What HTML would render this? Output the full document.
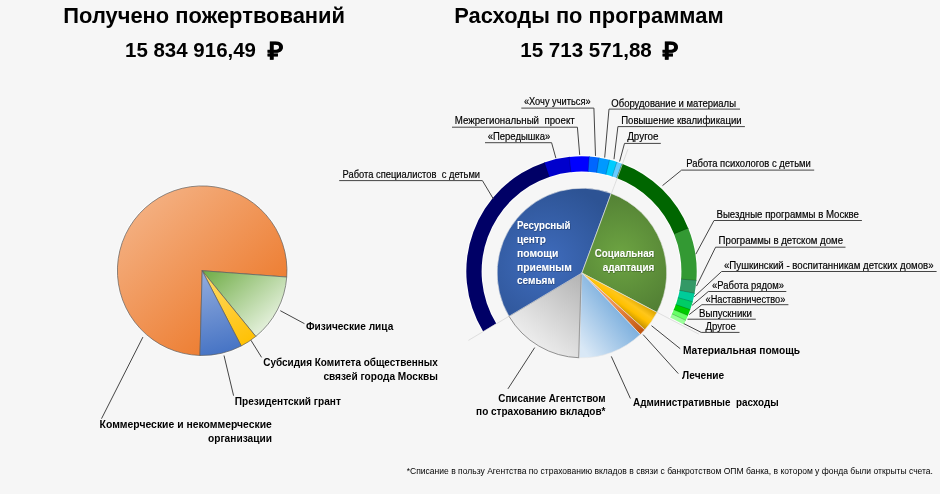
<!DOCTYPE html>
<html lang="ru"><head><meta charset="utf-8"><title>Отчёт</title>
<style>
html,body{margin:0;padding:0;background:#f6f6f6;}
body{width:940px;height:494px;overflow:hidden;}
svg{display:block;font-family:"Liberation Sans",sans-serif;}
text{white-space:pre;}
</style></head><body>
<svg width="940" height="494" viewBox="0 0 940 494">
<defs>
<linearGradient id="lo" gradientUnits="userSpaceOnUse" x1="142" y1="198" x2="250" y2="318"><stop offset="0" stop-color="#f4b183"/><stop offset="1" stop-color="#ed7d31"/></linearGradient>
<linearGradient id="lg" gradientUnits="userSpaceOnUse" x1="215" y1="262" x2="275" y2="330"><stop offset="0" stop-color="#70ad47"/><stop offset="1" stop-color="#eef6e8"/></linearGradient>
<linearGradient id="ly" gradientUnits="userSpaceOnUse" x1="205" y1="275" x2="250" y2="345"><stop offset="0" stop-color="#ffd966"/><stop offset="1" stop-color="#ffc000"/></linearGradient>
<linearGradient id="lb" gradientUnits="userSpaceOnUse" x1="205" y1="275" x2="225" y2="355"><stop offset="0" stop-color="#8faadc"/><stop offset="1" stop-color="#4472c4"/></linearGradient>

<radialGradient id="rb" gradientUnits="userSpaceOnUse" cx="545" cy="262" r="80"><stop offset="0" stop-color="#3f6cbd"/><stop offset="1" stop-color="#2d5394"/></radialGradient>
<radialGradient id="rg" gradientUnits="userSpaceOnUse" cx="620" cy="255" r="70"><stop offset="0" stop-color="#6da442"/><stop offset="1" stop-color="#507d33"/></radialGradient>
<linearGradient id="ry" gradientUnits="userSpaceOnUse" x1="637.4" y1="298.3" x2="624.8" y2="316.3"><stop offset="0" stop-color="#d6a100"/><stop offset="0.38" stop-color="#ffc61a"/><stop offset="0.62" stop-color="#ffc000"/><stop offset="1" stop-color="#bd8a00"/></linearGradient>
<linearGradient id="ro" gradientUnits="userSpaceOnUse" x1="585" y1="276" x2="641" y2="331"><stop offset="0" stop-color="#f6b98f"/><stop offset="0.55" stop-color="#ee8d49"/><stop offset="1" stop-color="#c25810"/></linearGradient>
<linearGradient id="rl" gradientUnits="userSpaceOnUse" x1="580" y1="345" x2="640" y2="300"><stop offset="0" stop-color="#d9e8f6"/><stop offset="1" stop-color="#5b9bd5"/></linearGradient>
<linearGradient id="rgr" gradientUnits="userSpaceOnUse" x1="520" y1="350" x2="585" y2="275"><stop offset="0" stop-color="#f4f4f4"/><stop offset="0.3" stop-color="#e2e2e2"/><stop offset="1" stop-color="#b2b2b2"/></linearGradient>
<filter id="sh" x="-10%" y="-30%" width="120%" height="160%"><feDropShadow dx="0.4" dy="0.6" stdDeviation="0.5" flood-color="#000" flood-opacity="0.45"/></filter></defs>
<rect width="940" height="494" fill="#f6f6f6"/>
<circle cx="202.2" cy="270.7" r="86.1" fill="#fcfcfc"/>
<path d="M202.20,270.70 L199.98,355.47 A84.8,84.8 0 1 1 286.76,277.06 Z" fill="url(#lo)" stroke="#5e5e5e" stroke-width="0.7" stroke-linejoin="round"/>
<path d="M202.20,270.70 L286.76,277.06 A84.8,84.8 0 0 1 255.80,336.42 Z" fill="url(#lg)" stroke="#5e5e5e" stroke-width="0.7" stroke-linejoin="round"/>
<path d="M202.20,270.70 L255.80,336.42 A84.8,84.8 0 0 1 241.22,345.99 Z" fill="url(#ly)" stroke="#5e5e5e" stroke-width="0.7" stroke-linejoin="round"/>
<path d="M202.20,270.70 L241.22,345.99 A84.8,84.8 0 0 1 199.98,355.47 Z" fill="url(#lb)" stroke="#5e5e5e" stroke-width="0.7" stroke-linejoin="round"/>
<path d="M482.85,332.90 A116.2,116.2 0 1 1 684.19,325.87 L668.90,317.78 A98.9,98.9 0 1 0 497.54,323.76 Z" fill="#fdfdfd"/>
<path d="M483.17,331.52 A115.2,115.2 0 0 1 545.14,162.19 L549.97,176.71 A99.9,99.9 0 0 0 496.23,323.55 Z" fill="#000066"/>
<path d="M544.37,162.45 A115.2,115.2 0 0 1 570.06,156.87 L571.58,172.09 A99.9,99.9 0 0 0 549.31,176.93 Z" fill="#0000cc"/>
<path d="M569.26,156.95 A115.2,115.2 0 0 1 589.94,156.61 L588.82,171.87 A99.9,99.9 0 0 0 570.88,172.17 Z" fill="#0000ff"/>
<path d="M589.13,156.55 A115.2,115.2 0 0 1 599.72,157.75 L597.30,172.86 A99.9,99.9 0 0 0 588.12,171.82 Z" fill="#0066ff"/>
<path d="M598.93,157.63 A115.2,115.2 0 0 1 610.34,159.97 L606.51,174.78 A99.9,99.9 0 0 0 596.61,172.75 Z" fill="#0099ff"/>
<path d="M609.56,159.77 A115.2,115.2 0 0 1 617.67,162.13 L612.87,176.65 A99.9,99.9 0 0 0 605.84,174.61 Z" fill="#00ccff"/>
<path d="M616.91,161.88 A115.2,115.2 0 0 1 622.78,163.95 L617.30,178.24 A99.9,99.9 0 0 0 612.20,176.44 Z" fill="#66ccff"/>
<path d="M622.03,163.67 A115.2,115.2 0 0 1 688.54,228.91 L674.32,234.56 A99.9,99.9 0 0 0 616.65,177.99 Z" fill="#006600"/>
<path d="M688.24,228.16 A115.2,115.2 0 0 1 696.30,281.14 L681.05,279.86 A99.9,99.9 0 0 0 674.06,233.92 Z" fill="#339933"/>
<path d="M696.36,280.34 A115.2,115.2 0 0 1 694.47,294.07 L679.46,291.08 A99.9,99.9 0 0 0 681.11,279.16 Z" fill="#339966"/>
<path d="M694.62,293.28 A115.2,115.2 0 0 1 692.46,302.48 L677.72,298.37 A99.9,99.9 0 0 0 679.60,290.39 Z" fill="#00cc99"/>
<path d="M692.67,301.70 A115.2,115.2 0 0 1 689.96,310.33 L675.55,305.18 A99.9,99.9 0 0 0 677.91,297.69 Z" fill="#00cc66"/>
<path d="M690.23,309.58 A115.2,115.2 0 0 1 687.62,316.33 L673.53,310.37 A99.9,99.9 0 0 0 675.79,304.52 Z" fill="#00cc00"/>
<path d="M687.93,315.59 A115.2,115.2 0 0 1 685.48,321.09 L671.67,314.51 A99.9,99.9 0 0 0 673.80,309.73 Z" fill="#66ff66"/>
<path d="M685.82,320.37 A115.2,115.2 0 0 1 683.78,324.52 L670.19,317.47 A99.9,99.9 0 0 0 671.97,313.88 Z" fill="#99ff99"/>
<line x1="549.31" y1="176.93" x2="544.37" y2="162.45" stroke="#000" stroke-opacity="0.4" stroke-width="0.5"/>
<line x1="570.88" y1="172.17" x2="569.26" y2="156.95" stroke="#000" stroke-opacity="0.4" stroke-width="0.5"/>
<line x1="588.12" y1="171.82" x2="589.13" y2="156.55" stroke="#000" stroke-opacity="0.4" stroke-width="0.5"/>
<line x1="596.61" y1="172.75" x2="598.93" y2="157.63" stroke="#000" stroke-opacity="0.4" stroke-width="0.5"/>
<line x1="605.84" y1="174.61" x2="609.56" y2="159.77" stroke="#000" stroke-opacity="0.4" stroke-width="0.5"/>
<line x1="612.20" y1="176.44" x2="616.91" y2="161.88" stroke="#000" stroke-opacity="0.4" stroke-width="0.5"/>
<line x1="616.65" y1="177.99" x2="622.03" y2="163.67" stroke="#000" stroke-opacity="0.4" stroke-width="0.5"/>
<line x1="674.06" y1="233.92" x2="688.24" y2="228.16" stroke="#000" stroke-opacity="0.4" stroke-width="0.5"/>
<line x1="681.11" y1="279.16" x2="696.36" y2="280.34" stroke="#000" stroke-opacity="0.4" stroke-width="0.5"/>
<line x1="679.60" y1="290.39" x2="694.62" y2="293.28" stroke="#000" stroke-opacity="0.4" stroke-width="0.5"/>
<line x1="677.91" y1="297.69" x2="692.67" y2="301.70" stroke="#000" stroke-opacity="0.4" stroke-width="0.5"/>
<line x1="675.79" y1="304.52" x2="690.23" y2="309.58" stroke="#000" stroke-opacity="0.4" stroke-width="0.5"/>
<line x1="673.80" y1="309.73" x2="687.93" y2="315.59" stroke="#000" stroke-opacity="0.4" stroke-width="0.5"/>
<line x1="671.97" y1="313.88" x2="685.82" y2="320.37" stroke="#000" stroke-opacity="0.4" stroke-width="0.5"/>
<line x1="508.98" y1="316.29" x2="468.40" y2="340.39" stroke="#d4d4d4" stroke-width="0.7"/>
<line x1="611.46" y1="193.52" x2="627.91" y2="149.28" stroke="#d4d4d4" stroke-width="0.7"/>
<line x1="657.05" y1="312.29" x2="698.88" y2="334.16" stroke="#d4d4d4" stroke-width="0.7"/>
<path d="M581.90,273.00 L579.24,357.76 A84.8,84.8 0 0 1 508.98,316.29 Z" fill="url(#rgr)" stroke="#858585" stroke-width="0.9"/>
<path d="M581.90,273.00 L508.98,316.29 A84.8,84.8 0 0 1 611.18,193.42 Z" fill="url(#rb)" stroke="#e8e8e8" stroke-width="0.6" stroke-linejoin="round"/>
<path d="M581.90,273.00 L611.18,193.42 A84.8,84.8 0 0 1 656.98,312.42 Z" fill="url(#rg)" stroke="#e8e8e8" stroke-width="0.6" stroke-linejoin="round"/>
<path d="M581.90,273.00 L656.98,312.42 A84.8,84.8 0 0 1 644.82,329.85 Z" fill="url(#ry)" stroke="#e8e8e8" stroke-width="0.6" stroke-linejoin="round"/>
<path d="M581.90,273.00 L644.82,329.85 A84.8,84.8 0 0 1 640.27,334.51 Z" fill="url(#ro)" stroke="#e8e8e8" stroke-width="0.6" stroke-linejoin="round"/>
<path d="M581.90,273.00 L640.27,334.51 A84.8,84.8 0 0 1 579.24,357.76 Z" fill="url(#rl)" stroke="#e8e8e8" stroke-width="0.6" stroke-linejoin="round"/>
<line x1="581.20" y1="275.00" x2="578.54" y2="357.76" stroke="#8a8a8a" stroke-width="0.7"/>
<polyline points="280.3,310.7 304.5,323.7" stroke="#454545" stroke-width="1" fill="none"/>
<polyline points="250.9,340.2 261.6,357.4" stroke="#454545" stroke-width="1" fill="none"/>
<polyline points="224.0,355.5 233.6,395.7" stroke="#454545" stroke-width="1" fill="none"/>
<polyline points="142.9,337.1 101.5,418.7" stroke="#454545" stroke-width="1" fill="none"/>
<polyline points="651.5,325.7 680.2,348.7" stroke="#454545" stroke-width="1" fill="none"/>
<polyline points="643.1,334.6 678.3,373.6" stroke="#454545" stroke-width="1" fill="none"/>
<polyline points="611.3,356.4 630.4,398.5" stroke="#454545" stroke-width="1" fill="none"/>
<polyline points="534.7,347.6 507.9,388.9" stroke="#454545" stroke-width="1" fill="none"/>
<polyline points="482.4,180.6 339.2,180.6" stroke="#454545" stroke-width="1" fill="none"/>
<polyline points="482.4,180.6 493.3,198.8" stroke="#454545" stroke-width="1" fill="none"/>
<polyline points="485.0,142.7 551.6,142.7 555.9,158.2" stroke="#454545" stroke-width="1" fill="none"/>
<polyline points="452.0,127.2 577.4,127.2 579.7,154.9" stroke="#454545" stroke-width="1" fill="none"/>
<polyline points="521.3,108.1 593.9,108.1 595.5,155.9" stroke="#454545" stroke-width="1" fill="none"/>
<polyline points="740.0,109.1 609.0,109.1 604.7,157.6" stroke="#454545" stroke-width="1" fill="none"/>
<polyline points="744.9,126.6 617.9,126.6 614.0,159.2" stroke="#454545" stroke-width="1" fill="none"/>
<polyline points="660.8,143.4 624.5,143.4 619.6,161.5" stroke="#454545" stroke-width="1" fill="none"/>
<polyline points="814.2,170.1 681.6,170.1 662.5,185.6" stroke="#454545" stroke-width="1" fill="none"/>
<polyline points="861.9,220.5 714.0,220.5 695.8,254.2" stroke="#454545" stroke-width="1" fill="none"/>
<polyline points="845.5,247.2 715.6,247.2 696.5,286.1" stroke="#454545" stroke-width="1" fill="none"/>
<polyline points="936.6,271.5 721.6,271.5 694.1,296.9" stroke="#454545" stroke-width="1" fill="none"/>
<polyline points="786.3,291.5 708.3,291.5 692.0,305.4" stroke="#454545" stroke-width="1" fill="none"/>
<polyline points="788.4,304.7 701.9,304.7 689.2,314.6" stroke="#454545" stroke-width="1" fill="none"/>
<polyline points="755.8,319.2 687.5,319.2" stroke="#454545" stroke-width="1" fill="none"/>
<polyline points="739.5,332.4 701.2,332.4 683.8,323.6" stroke="#454545" stroke-width="1" fill="none"/>
<g opacity="0.999">
<text x="63.3" y="23.2" font-size="21.2" font-weight="bold" text-anchor="start" fill="#000" textLength="281.7" lengthAdjust="spacingAndGlyphs" xml:space="preserve">Получено пожертвований</text>
<text x="125.0" y="57.0" font-size="20" font-weight="bold" text-anchor="start" fill="#000" textLength="131.0" lengthAdjust="spacingAndGlyphs" xml:space="preserve">15 834 916,49</text>
<text x="268.1" y="58.6" font-size="23.5" font-weight="bold" text-anchor="start" fill="#000" textLength="15.6" lengthAdjust="spacingAndGlyphs" stroke="#000" stroke-width="0.5" xml:space="preserve">₽</text>
<text x="454.2" y="23.2" font-size="21.2" font-weight="bold" text-anchor="start" fill="#000" textLength="269.4" lengthAdjust="spacingAndGlyphs" xml:space="preserve">Расходы по программам</text>
<text x="520.2" y="57.0" font-size="20" font-weight="bold" text-anchor="start" fill="#000" textLength="131.6" lengthAdjust="spacingAndGlyphs" xml:space="preserve">15 713 571,88</text>
<text x="663.2" y="58.6" font-size="23.5" font-weight="bold" text-anchor="start" fill="#000" textLength="15.6" lengthAdjust="spacingAndGlyphs" stroke="#000" stroke-width="0.5" xml:space="preserve">₽</text>
<text x="305.9" y="329.5" font-size="11.5" font-weight="bold" text-anchor="start" fill="#000" textLength="87.4" lengthAdjust="spacingAndGlyphs" xml:space="preserve">Физические лица</text>
<text x="263.3" y="366.2" font-size="11.5" font-weight="bold" text-anchor="start" fill="#000" textLength="174.5" lengthAdjust="spacingAndGlyphs" xml:space="preserve">Субсидия Комитета общественных</text>
<text x="323.4" y="380.4" font-size="11.5" font-weight="bold" text-anchor="start" fill="#000" textLength="114.4" lengthAdjust="spacingAndGlyphs" xml:space="preserve">связей города Москвы</text>
<text x="234.8" y="405.2" font-size="11.5" font-weight="bold" text-anchor="start" fill="#000" textLength="106.1" lengthAdjust="spacingAndGlyphs" xml:space="preserve">Президентский грант</text>
<text x="99.6" y="427.8" font-size="11.5" font-weight="bold" text-anchor="start" fill="#000" textLength="172.3" lengthAdjust="spacingAndGlyphs" xml:space="preserve">Коммерческие и некоммерческие</text>
<text x="208.0" y="441.8" font-size="11.5" font-weight="bold" text-anchor="start" fill="#000" textLength="63.9" lengthAdjust="spacingAndGlyphs" xml:space="preserve">организации</text>
<text x="682.9" y="354.1" font-size="11.5" font-weight="bold" text-anchor="start" fill="#000" textLength="117.2" lengthAdjust="spacingAndGlyphs" xml:space="preserve">Материальная помощь</text>
<text x="682.1" y="379.2" font-size="11.5" font-weight="bold" text-anchor="start" fill="#000" textLength="42.2" lengthAdjust="spacingAndGlyphs" xml:space="preserve">Лечение</text>
<text x="633.1" y="405.6" font-size="11.5" font-weight="bold" text-anchor="start" fill="#000" textLength="145.6" lengthAdjust="spacingAndGlyphs" xml:space="preserve">Административные  расходы</text>
<text x="498.3" y="401.8" font-size="11.5" font-weight="bold" text-anchor="start" fill="#000" textLength="107.2" lengthAdjust="spacingAndGlyphs" xml:space="preserve">Списание Агентством</text>
<text x="476.1" y="415.4" font-size="11.5" font-weight="bold" text-anchor="start" fill="#000" textLength="129.4" lengthAdjust="spacingAndGlyphs" xml:space="preserve">по страхованию вкладов*</text>
<text x="342.5" y="177.7" font-size="10.0" font-weight="normal" text-anchor="start" fill="#000" textLength="137.6" lengthAdjust="spacingAndGlyphs" stroke="#000" stroke-width="0.18" xml:space="preserve">Работа специалистов  с детьми</text>
<text x="487.7" y="140.1" font-size="10.0" font-weight="normal" text-anchor="start" fill="#000" textLength="62.6" lengthAdjust="spacingAndGlyphs" stroke="#000" stroke-width="0.18" xml:space="preserve">«Передышка»</text>
<text x="454.7" y="124.3" font-size="10.0" font-weight="normal" text-anchor="start" fill="#000" textLength="120.0" lengthAdjust="spacingAndGlyphs" stroke="#000" stroke-width="0.18" xml:space="preserve">Межрегиональный  проект</text>
<text x="523.9" y="104.8" font-size="10.0" font-weight="normal" text-anchor="start" fill="#000" textLength="66.7" lengthAdjust="spacingAndGlyphs" stroke="#000" stroke-width="0.18" xml:space="preserve">«Хочу учиться»</text>
<text x="611.3" y="106.5" font-size="10.0" font-weight="normal" text-anchor="start" fill="#000" textLength="124.7" lengthAdjust="spacingAndGlyphs" stroke="#000" stroke-width="0.18" xml:space="preserve">Оборудование и материалы</text>
<text x="621.2" y="123.6" font-size="10.0" font-weight="normal" text-anchor="start" fill="#000" textLength="120.4" lengthAdjust="spacingAndGlyphs" stroke="#000" stroke-width="0.18" xml:space="preserve">Повышение квалификации</text>
<text x="627.2" y="140.1" font-size="10.0" font-weight="normal" text-anchor="start" fill="#000" textLength="31.3" lengthAdjust="spacingAndGlyphs" stroke="#000" stroke-width="0.18" xml:space="preserve">Другое</text>
<text x="686.2" y="167.2" font-size="10.0" font-weight="normal" text-anchor="start" fill="#000" textLength="124.7" lengthAdjust="spacingAndGlyphs" stroke="#000" stroke-width="0.18" xml:space="preserve">Работа психологов с детьми</text>
<text x="716.5" y="217.6" font-size="10.0" font-weight="normal" text-anchor="start" fill="#000" textLength="142.4" lengthAdjust="spacingAndGlyphs" stroke="#000" stroke-width="0.18" xml:space="preserve">Выездные программы в Москве</text>
<text x="718.6" y="244.3" font-size="10.0" font-weight="normal" text-anchor="start" fill="#000" textLength="124.5" lengthAdjust="spacingAndGlyphs" stroke="#000" stroke-width="0.18" xml:space="preserve">Программы в детском доме</text>
<text x="724.0" y="268.6" font-size="10.0" font-weight="normal" text-anchor="start" fill="#000" textLength="209.6" lengthAdjust="spacingAndGlyphs" stroke="#000" stroke-width="0.18" xml:space="preserve">«Пушкинский - воспитанникам детских домов»</text>
<text x="712.1" y="289.1" font-size="10.0" font-weight="normal" text-anchor="start" fill="#000" textLength="71.8" lengthAdjust="spacingAndGlyphs" stroke="#000" stroke-width="0.18" xml:space="preserve">«Работа рядом»</text>
<text x="705.5" y="303.0" font-size="10.0" font-weight="normal" text-anchor="start" fill="#000" textLength="79.9" lengthAdjust="spacingAndGlyphs" stroke="#000" stroke-width="0.18" xml:space="preserve">«Наставничество»</text>
<text x="699.1" y="316.8" font-size="10.0" font-weight="normal" text-anchor="start" fill="#000" textLength="52.9" lengthAdjust="spacingAndGlyphs" stroke="#000" stroke-width="0.18" xml:space="preserve">Выпускники</text>
<text x="705.5" y="329.5" font-size="10.0" font-weight="normal" text-anchor="start" fill="#000" textLength="30.4" lengthAdjust="spacingAndGlyphs" stroke="#000" stroke-width="0.18" xml:space="preserve">Другое</text>
<text x="517.0" y="228.6" font-size="11.5" font-weight="bold" text-anchor="start" fill="#fff" textLength="53.4" lengthAdjust="spacingAndGlyphs" filter="url(#sh)" xml:space="preserve">Ресурсный</text>
<text x="517.0" y="242.7" font-size="11.5" font-weight="bold" text-anchor="start" fill="#fff" textLength="28.8" lengthAdjust="spacingAndGlyphs" filter="url(#sh)" xml:space="preserve">центр</text>
<text x="517.0" y="256.5" font-size="11.5" font-weight="bold" text-anchor="start" fill="#fff" textLength="41.3" lengthAdjust="spacingAndGlyphs" filter="url(#sh)" xml:space="preserve">помощи</text>
<text x="517.0" y="270.6" font-size="11.5" font-weight="bold" text-anchor="start" fill="#fff" textLength="54.8" lengthAdjust="spacingAndGlyphs" filter="url(#sh)" xml:space="preserve">приемным</text>
<text x="517.0" y="284.3" font-size="11.5" font-weight="bold" text-anchor="start" fill="#fff" textLength="37.9" lengthAdjust="spacingAndGlyphs" filter="url(#sh)" xml:space="preserve">семьям</text>
<text x="594.8" y="256.5" font-size="11.5" font-weight="bold" text-anchor="start" fill="#fff" textLength="59.5" lengthAdjust="spacingAndGlyphs" filter="url(#sh)" xml:space="preserve">Социальная</text>
<text x="602.7" y="270.6" font-size="11.5" font-weight="bold" text-anchor="start" fill="#fff" textLength="51.6" lengthAdjust="spacingAndGlyphs" filter="url(#sh)" xml:space="preserve">адаптация</text>
<text x="406.7" y="474.1" font-size="8.9" font-weight="normal" text-anchor="start" fill="#000" textLength="526.3" lengthAdjust="spacingAndGlyphs" xml:space="preserve">*Списание в пользу Агентства по страхованию вкладов в связи с банкротством ОПМ банка, в котором у фонда были открыты счета.</text>
</g>
</svg>
</body></html>
